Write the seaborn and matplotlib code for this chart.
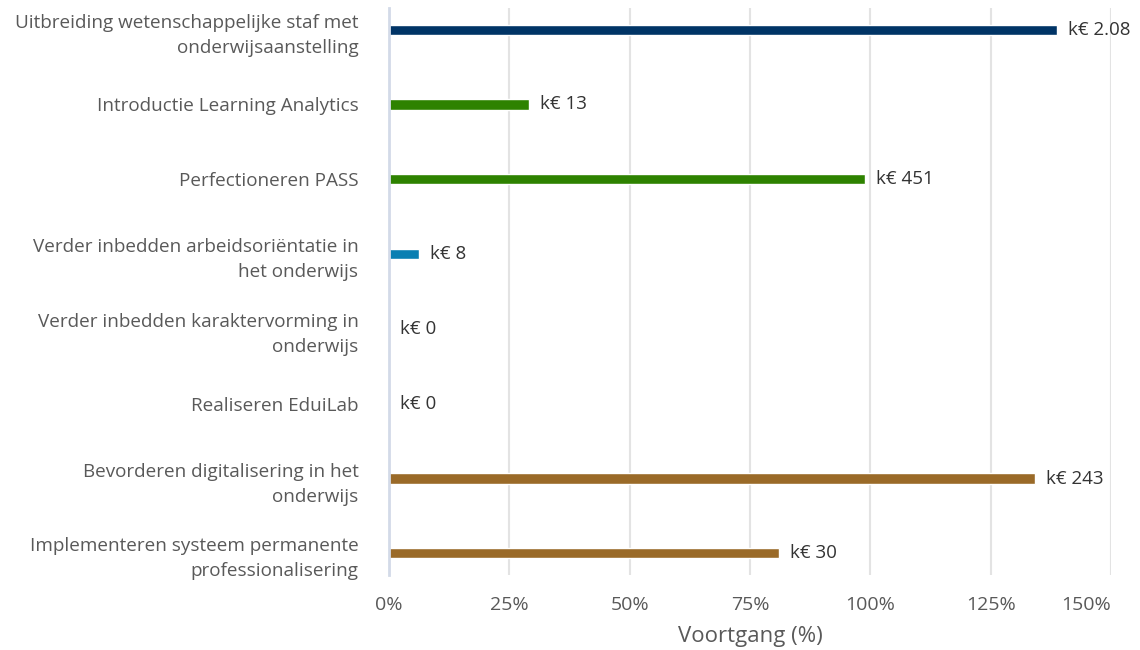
import matplotlib
matplotlib.use("Agg")
import matplotlib.pyplot as plt
import seaborn as sns
import pandas as pd

categories = [
    "Uitbreiding wetenschappelijke staf met\nonderwijsaanstelling",
    "Introductie Learning Analytics",
    "Perfectioneren PASS",
    "Verder inbedden arbeidsoriëntatie in\nhet onderwijs",
    "Verder inbedden karaktervorming in\nonderwijs",
    "Realiseren EduiLab",
    "Bevorderen digitalisering in het\nonderwijs",
    "Implementeren systeem permanente\nprofessionalisering",
]
progress = [138.8, 29.1, 98.9, 6.2, 0, 0, 134.2, 81.0]
amounts = ["k€ 2.08", "k€ 13", "k€ 451", "k€ 8", "k€ 0", "k€ 0", "k€ 243", "k€ 30"]
xticks = [0, 25, 50, 75, 100, 125, 150]

colors = ["#003466", "#2e8200", "#2e8200", "#0a7fb2",
          "#0a7fb2", "#0a7fb2", "#9a6a28", "#9a6a28"]

df = pd.DataFrame({"cat": categories, "pct": progress})

sns.set_theme(style="white")
plt.rcParams["font.family"] = ["Open Sans", "DejaVu Sans"]

fig = plt.figure(figsize=(11.4, 6.5), dpi=100)
ax = fig.add_axes([389 / 1140, 1 - 575 / 650, (1111 - 389) / 1140, (575 - 8) / 650])

sns.barplot(data=df, y="cat", x="pct", hue="cat", palette=colors,
            orient="h", width=0.135, legend=False, ax=ax, saturation=1)

for container, label in zip(ax.containers, amounts):
    ax.bar_label(container, labels=[label], padding=8, fontsize=13.5,
                 color="#333333", clip_on=False)

ax.set_xlim(0, 150)
ax.set_ylim(7.29, -0.29)
ax.set_xticks(xticks)
ax.set_xticklabels([f"{t}%" for t in xticks], fontsize=14, color="#595959")
ax.get_xticklabels()[-1].set_ha("right")
ax.tick_params(axis="y", length=0, pad=22, labelsize=13.6, labelcolor="#595959")
for lab in ax.get_yticklabels():
    lab.set_linespacing(1.5)
ax.tick_params(axis="x", length=0, pad=15)
ax.set_xlabel("Voortgang (%)", fontsize=16, color="#595959", labelpad=9)
ax.set_ylabel("")

ax.grid(axis="x", color="#e3e3e3", linewidth=1.5)
ax.set_axisbelow(True)
for side in ["top", "right", "bottom"]:
    ax.spines[side].set_visible(False)
ax.spines["left"].set_color("#d3dae8")
ax.spines["left"].set_linewidth(2)

fig.savefig("out.png", dpi=100)
